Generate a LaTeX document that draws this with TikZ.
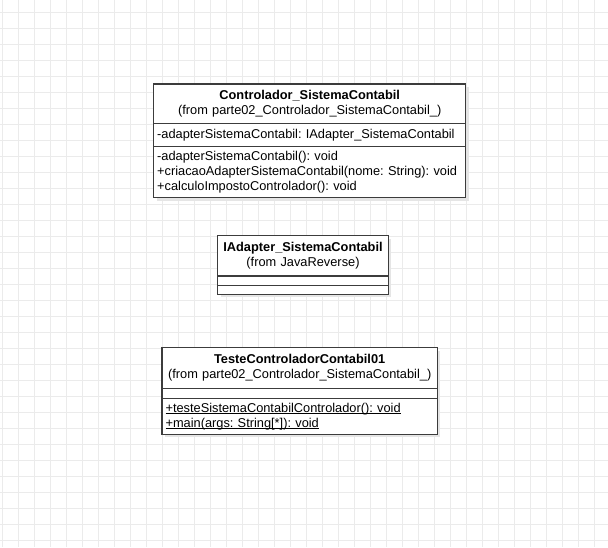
\documentclass[tikz,border=0pt]{standalone}
\usepackage{fontspec}
\setmainfont{Liberation Sans}
\usetikzlibrary{positioning,shadows}
\definecolor{umlline}{HTML}{3C3C3C}
\definecolor{gridgray}{HTML}{EBEBEB}
\newcommand{\umlul}[1]{\leavevmode\setbox0\hbox{#1}\rlap{\rule[-2pt]{\wd0}{0.9pt}}\box0}
\frenchspacing

\begin{document}
\begin{tikzpicture}[x=1pt, y=-1pt, node distance=0pt]
  \tikzstyle{part} = [draw=umlline, fill=white, line width=1.2pt, outer sep=0pt, inner xsep=3.5pt, inner ysep=0pt,
    font=\fontsize{12.8}{15}\selectfont, drop shadow={shadow xshift=3pt, shadow yshift=-3pt, fill=black!10, opacity=1}]
  \tikzstyle{gridline} = [draw=gridgray, line width=0.9pt]
  \useasboundingbox[fill=white] (0,0) rectangle (608,547);
  % background grid
  \foreach \i in {0,...,37} \draw[gridline] (2.3+16*\i,0) -- (2.3+16*\i,547);
  \foreach \j in {0,...,33} \draw[gridline] (0,12.3+16*\j) -- (608,12.3+16*\j);

  % Controlador_SistemaContabil
  \node[part, anchor=north, minimum width=312pt, text width=305pt, minimum height=39.7pt, align=center] (ctrlname) at (309.7,84)
    {\textbf{Controlador\_SistemaContabil}\\(from parte02\_Controlador\_SistemaContabil\_)};
  \node[part, below=of ctrlname, minimum width=312pt, text width=305pt, minimum height=22.6pt, align=left] (ctrlattr)
    {-adapterSistemaContabil: IAdapter\_SistemaContabil};
  \node[part, below=of ctrlattr, minimum width=312pt, text width=305pt, minimum height=51.4pt, align=left] (ctrlops)
    {-adapterSistemaContabil(): void\\+criacaoAdapterSistemaContabil(nome: String): void\\+calculoImpostoControlador(): void};

  % IAdapter_SistemaContabil
  \node[part, anchor=north, minimum width=170.6pt, text width=163.6pt, minimum height=40.3pt, align=center] (adaptname) at (303,235.7)
    {\textbf{IAdapter\_SistemaContabil}\\(from JavaReverse)};
  \node[part, below=of adaptname, minimum width=170.6pt, text width=163.6pt, minimum height=9.7pt] (adaptattr) {};
  \node[part, below=of adaptattr, minimum width=170.6pt, text width=163.6pt, minimum height=8.6pt] (adaptops) {};

  % TesteControladorContabil01
  \node[part, anchor=north, minimum width=275.3pt, text width=268.3pt, minimum height=40.6pt, align=center] (testname) at (299.7,347.7)
    {\textbf{TesteControladorContabil01}\\(from parte02\_Controlador\_SistemaContabil\_)};
  \node[part, below=of testname, minimum width=275.3pt, text width=268.3pt, minimum height=10pt] (testattr) {};
  \node[part, below=of testattr, minimum width=275.3pt, text width=268.3pt, minimum height=36pt, align=left] (testops)
    {\umlul{+testeSistemaContabilControlador(): void}\\\umlul{+main(args: String[*]): void}};
\end{tikzpicture}
\end{document}
